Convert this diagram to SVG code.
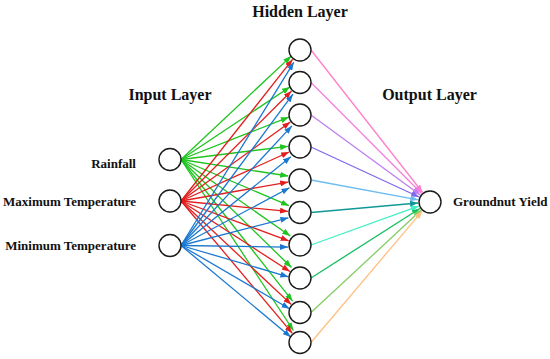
<svg xmlns="http://www.w3.org/2000/svg" width="550" height="359" viewBox="0 0 550 359">
<style>
.node{fill:#fff;stroke:#1a1a1a;stroke-width:1.4}
.t{font-family:"Liberation Serif","Times New Roman",serif;font-weight:bold;fill:#111}
.title{font-size:16px;text-anchor:middle}
.lab{font-size:13px}
.c line{stroke-width:1.3;fill:none}
</style>
<defs>
<marker id="aG" markerUnits="userSpaceOnUse" markerWidth="8" markerHeight="6" refX="8" refY="3" orient="auto"><path d="M0,0 L8,3 L0,6 z" fill="#1fc41f"/></marker>
<marker id="aR" markerUnits="userSpaceOnUse" markerWidth="8" markerHeight="6" refX="8" refY="3" orient="auto"><path d="M0,0 L8,3 L0,6 z" fill="#e21e1e"/></marker>
<marker id="aB" markerUnits="userSpaceOnUse" markerWidth="8" markerHeight="6" refX="8" refY="3" orient="auto"><path d="M0,0 L8,3 L0,6 z" fill="#1a78d0"/></marker>
<marker id="o1" markerUnits="userSpaceOnUse" markerWidth="8" markerHeight="6" refX="8" refY="3" orient="auto"><path d="M0,0 L8,3 L0,6 z" fill="#ff7fc8"/></marker>
<marker id="o2" markerUnits="userSpaceOnUse" markerWidth="8" markerHeight="6" refX="8" refY="3" orient="auto"><path d="M0,0 L8,3 L0,6 z" fill="#f47fe0"/></marker>
<marker id="o3" markerUnits="userSpaceOnUse" markerWidth="8" markerHeight="6" refX="8" refY="3" orient="auto"><path d="M0,0 L8,3 L0,6 z" fill="#c07ef0"/></marker>
<marker id="o4" markerUnits="userSpaceOnUse" markerWidth="8" markerHeight="6" refX="8" refY="3" orient="auto"><path d="M0,0 L8,3 L0,6 z" fill="#8068ee"/></marker>
<marker id="o5" markerUnits="userSpaceOnUse" markerWidth="8" markerHeight="6" refX="8" refY="3" orient="auto"><path d="M0,0 L8,3 L0,6 z" fill="#6cbcf0"/></marker>
<marker id="o6" markerUnits="userSpaceOnUse" markerWidth="8" markerHeight="6" refX="8" refY="3" orient="auto"><path d="M0,0 L8,3 L0,6 z" fill="#109898"/></marker>
<marker id="o7" markerUnits="userSpaceOnUse" markerWidth="8" markerHeight="6" refX="8" refY="3" orient="auto"><path d="M0,0 L8,3 L0,6 z" fill="#40f0c4"/></marker>
<marker id="o8" markerUnits="userSpaceOnUse" markerWidth="8" markerHeight="6" refX="8" refY="3" orient="auto"><path d="M0,0 L8,3 L0,6 z" fill="#14c060"/></marker>
<marker id="o9" markerUnits="userSpaceOnUse" markerWidth="8" markerHeight="6" refX="8" refY="3" orient="auto"><path d="M0,0 L8,3 L0,6 z" fill="#84cc64"/></marker>
<marker id="o10" markerUnits="userSpaceOnUse" markerWidth="8" markerHeight="6" refX="8" refY="3" orient="auto"><path d="M0,0 L8,3 L0,6 z" fill="#ffc080"/></marker>
</defs>
<rect width="550" height="359" fill="#fff"/>
<g id="connectors" class="c">
<g stroke="#1fc41f" marker-end="url(#aG)">
<line x1="181" y1="159.5" x2="291.2" y2="56.1"/>
<line x1="181" y1="159.5" x2="289.9" y2="87.0"/>
<line x1="181" y1="159.5" x2="288.8" y2="117.2"/>
<line x1="181" y1="159.5" x2="288.1" y2="146.3"/>
<line x1="181" y1="159.5" x2="288.2" y2="176.0"/>
<line x1="181" y1="159.5" x2="289.0" y2="205.7"/>
<line x1="181" y1="159.5" x2="290.3" y2="236.0"/>
<line x1="181" y1="159.5" x2="291.5" y2="267.5"/>
<line x1="181" y1="159.5" x2="292.6" y2="301.1"/>
<line x1="181" y1="159.5" x2="293.4" y2="330.5"/>
</g>
<g stroke="#e21e1e" marker-end="url(#aR)">
<line x1="181" y1="201" x2="292.6" y2="59.4"/>
<line x1="181" y1="201" x2="291.5" y2="91.0"/>
<line x1="181" y1="201" x2="290.3" y2="122.0"/>
<line x1="181" y1="201" x2="289.1" y2="152.0"/>
<line x1="181" y1="201" x2="288.2" y2="182.1"/>
<line x1="181" y1="201" x2="288.05" y2="211.4"/>
<line x1="181" y1="201" x2="288.7" y2="240.8"/>
<line x1="181" y1="201" x2="289.9" y2="271.5"/>
<line x1="181" y1="201" x2="291.2" y2="304.4"/>
<line x1="181" y1="201" x2="292.3" y2="333.3"/>
</g>
<g stroke="#1a78d0" marker-end="url(#aB)">
<line x1="181" y1="245.5" x2="293.8" y2="62.3"/>
<line x1="181" y1="245.5" x2="292.9" y2="94.2"/>
<line x1="181" y1="245.5" x2="291.9" y2="125.9"/>
<line x1="181" y1="245.5" x2="290.8" y2="156.7"/>
<line x1="181" y1="245.5" x2="289.5" y2="187.8"/>
<line x1="181" y1="245.5" x2="288.4" y2="217.8"/>
<line x1="181" y1="245.5" x2="288.0" y2="247.1"/>
<line x1="181" y1="245.5" x2="288.4" y2="276.8"/>
<line x1="181" y1="245.5" x2="289.5" y2="308.7"/>
<line x1="181" y1="245.5" x2="290.7" y2="336.9"/>
</g>
<line x1="311" y1="50" x2="422.6" y2="192.5" stroke="#ff7fc8" marker-end="url(#o1)"/>
<line x1="311" y1="82.5" x2="421.6" y2="193.5" stroke="#f47fe0" marker-end="url(#o2)"/>
<line x1="311" y1="115" x2="420.3" y2="194.9" stroke="#c07ef0" marker-end="url(#o3)"/>
<line x1="311" y1="147" x2="419.1" y2="197.0" stroke="#8068ee" marker-end="url(#o4)"/>
<line x1="311" y1="180" x2="418.2" y2="199.8" stroke="#6cbcf0" marker-end="url(#o5)"/>
<line x1="311" y1="212.5" x2="418.0" y2="203.0" stroke="#109898" marker-end="url(#o6)"/>
<line x1="311" y1="245" x2="418.7" y2="206.1" stroke="#40f0c4" marker-end="url(#o7)"/>
<line x1="311" y1="278" x2="419.9" y2="208.5" stroke="#14c060" marker-end="url(#o8)"/>
<line x1="311" y1="312.5" x2="421.2" y2="210.1" stroke="#84cc64" marker-end="url(#o9)"/>
<line x1="311" y1="342.5" x2="422.2" y2="211.1" stroke="#ffc080" marker-end="url(#o10)"/>
</g>
<g id="in1"><circle class="node" cx="170" cy="159.5" r="11"/><text class="t lab" x="136" y="168" text-anchor="end">Rainfall</text></g>
<g id="in2"><circle class="node" cx="170" cy="201" r="11"/><text class="t lab" x="136" y="206" text-anchor="end">Maximum Temperature</text></g>
<g id="in3"><circle class="node" cx="170" cy="245.5" r="11"/><text class="t lab" x="136" y="249.5" text-anchor="end">Minimum Temperature</text></g>
<g id="h1"><circle class="node" cx="300" cy="50" r="11"/></g>
<g id="h2"><circle class="node" cx="300" cy="82.5" r="11"/></g>
<g id="h3"><circle class="node" cx="300" cy="115" r="11"/></g>
<g id="h4"><circle class="node" cx="300" cy="147" r="11"/></g>
<g id="h5"><circle class="node" cx="300" cy="180" r="11"/></g>
<g id="h6"><circle class="node" cx="300" cy="212.5" r="11"/></g>
<g id="h7"><circle class="node" cx="300" cy="245" r="11"/></g>
<g id="h8"><circle class="node" cx="300" cy="278" r="11"/></g>
<g id="h9"><circle class="node" cx="300" cy="312.5" r="11"/></g>
<g id="h10"><circle class="node" cx="300" cy="342.5" r="11"/></g>
<g id="out"><circle class="node" cx="430" cy="202" r="11"/><text class="t lab" x="453" y="206">Groundnut Yield</text></g>
<g id="titles">
<text class="t title" x="300" y="17">Hidden Layer</text>
<text class="t title" x="170" y="100">Input Layer</text>
<text class="t title" x="429.5" y="100">Output Layer</text>
</g>
</svg>
